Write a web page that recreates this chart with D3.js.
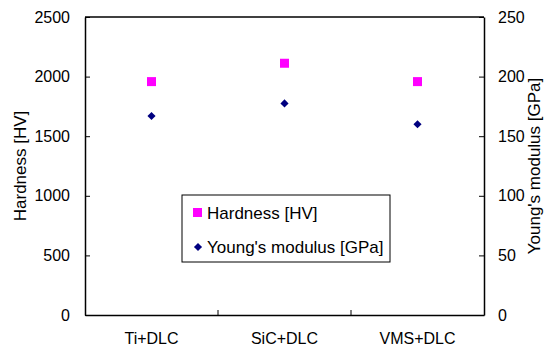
<!DOCTYPE html>
<html>
<head>
<meta charset="utf-8">
<script src="https://cdn.jsdelivr.net/npm/d3@7"></script>
<style>
  body { margin: 0; background: #fff; }
  text { font-family: "Liberation Sans", Arial, sans-serif; }
</style>
</head>
<body>
<div id="chart"></div>
<script>
// data
var categories = ["Ti+DLC", "SiC+DLC", "VMS+DLC"];
var hardness = [1958, 2112, 1958];      // HV, left axis
var youngs = [167, 177.5, 160];         // GPa, right axis
var hardTicks = [0, 500, 1000, 1500, 2000, 2500];
var youngTicks = [0, 50, 100, 150, 200, 250];

var svgWidth = 545, svgHeight = 352;
var margin = { top: 17, right: 61, bottom: 37, left: 85 };
var width = svgWidth - margin.left - margin.right;
var height = svgHeight - margin.top - margin.bottom;
var fs = 16;

var svg = d3.select("#chart").append("svg")
  .attr("width", svgWidth)
  .attr("height", svgHeight);

var g = svg.append("g")
  .attr("transform", `translate(${margin.left}, ${margin.top})`);

var x = d3.scaleBand().domain(categories).range([0, width]);
var yL = d3.scaleLinear().domain([0, 2500]).range([height, 0]);
var yR = d3.scaleLinear().domain([0, 250]).range([height, 0]);

// left axis, ticks inside
var leftAxis = g.append("g")
  .call(d3.axisLeft(yL).tickValues(hardTicks).tickFormat(d3.format("d"))
    .tickSizeInner(-5).tickSizeOuter(0).tickPadding(15));
// right axis, ticks inside
var rightAxis = g.append("g")
  .attr("transform", `translate(${width}, 0)`)
  .call(d3.axisRight(yR).tickValues(youngTicks).tickFormat(d3.format("d"))
    .tickSizeInner(-5).tickSizeOuter(0).tickPadding(14));

// bottom axis: ticks between categories, pointing up
var bottomAxis = g.append("g")
  .attr("transform", `translate(0, ${height})`)
  .call(d3.axisBottom(x).tickSize(0).tickPadding(18));
bottomAxis.selectAll(".sep")
  .data(categories.slice(1))
  .enter().append("line")
  .attr("x1", d => x(d)).attr("x2", d => x(d))
  .attr("y1", 0).attr("y2", -5)
  .attr("stroke", "#000");

// top border
g.append("line")
  .attr("x1", 0).attr("x2", width)
  .attr("y1", 0).attr("y2", 0)
  .attr("stroke", "#000").attr("stroke-width", 1.5);

[leftAxis, rightAxis, bottomAxis].forEach(function(a) {
  a.select(".domain").attr("stroke", "#000").attr("stroke-width", 1.5);
  a.selectAll("text").attr("font-size", fs).attr("fill", "#000")
    .style("font-family", "'Liberation Sans', Arial, sans-serif");
});

// hardness squares
g.selectAll(".hard")
  .data(hardness)
  .enter().append("rect")
  .attr("x", (d, i) => x(categories[i]) + x.bandwidth() / 2 - 4.5)
  .attr("y", d => yL(d) - 4.5)
  .attr("width", 9).attr("height", 9)
  .attr("fill", "#ff00ff");

// young's modulus diamonds
var diamond = d3.symbol().type(d3.symbolDiamond2).size(42);
g.selectAll(".young")
  .data(youngs)
  .enter().append("path")
  .attr("d", diamond)
  .attr("transform", (d, i) => `translate(${x(categories[i]) + x.bandwidth() / 2}, ${yR(d)})`)
  .attr("fill", "#000080");

// axis titles
svg.append("text")
  .attr("transform", `translate(26, ${margin.top + height / 2}) rotate(-90)`)
  .attr("text-anchor", "middle")
  .attr("font-size", 17)
  .text("Hardness [HV]");

svg.append("text")
  .attr("transform", `translate(540, ${margin.top + height / 2}) rotate(-90)`)
  .attr("text-anchor", "middle")
  .attr("font-size", 17)
  .text("Young's modulus [GPa]");

// legend
var legend = svg.append("g").attr("transform", "translate(182, 195)");
legend.append("rect")
  .attr("width", 208).attr("height", 67)
  .attr("fill", "#fff").attr("stroke", "#000").attr("stroke-width", 1);
legend.append("rect")
  .attr("x", 11).attr("y", 13).attr("width", 9).attr("height", 9)
  .attr("fill", "#ff00ff");
legend.append("text")
  .attr("x", 25).attr("y", 24).attr("font-size", 17)
  .text("Hardness [HV]");
legend.append("path")
  .attr("d", diamond)
  .attr("transform", "translate(16, 52)")
  .attr("fill", "#000080");
legend.append("text")
  .attr("x", 25).attr("y", 58).attr("font-size", 17)
  .text("Young's modulus [GPa]");
</script>
</body>
</html>
